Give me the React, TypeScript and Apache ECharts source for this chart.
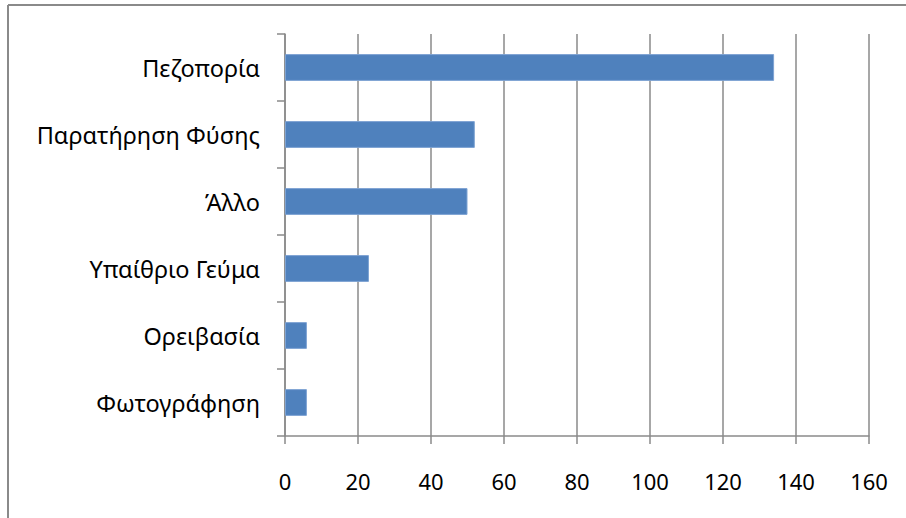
import React, { useEffect, useRef } from "react";
import * as echarts from "echarts";

const categories = ["Πεζοπορία", "Παρατήρηση Φύσης", "Άλλο", "Υπαίθριο Γεύμα", "Ορειβασία", "Φωτογράφηση"];
const values = [134, 52, 50, 23, 6, 6];
const xMin = 0;
const xMax = 160;
const xInterval = 20;

export default function App() {
  const ref = useRef<HTMLDivElement>(null);
  useEffect(() => {
    if (!ref.current) return;
    const chart = echarts.init(ref.current, null, { renderer: "svg" });
    const font = "'Noto Sans', sans-serif";
    chart.setOption({
      animation: false,
      backgroundColor: "#ffffff",
      graphic: [
        { type: "line", shape: { x1: 8, y1: 5, x2: 906, y2: 5 }, style: { stroke: "#8a8a8a", lineWidth: 2 } },
        { type: "line", shape: { x1: 8, y1: 5, x2: 8, y2: 518 }, style: { stroke: "#8a8a8a", lineWidth: 2 } },
      ],
      grid: { left: 285, right: 37, top: 34, bottom: 82, containLabel: false },
      xAxis: {
        type: "value",
        min: xMin,
        max: xMax,
        interval: xInterval,
        axisLine: { show: true, lineStyle: { color: "#8a8a8a", width: 1.5 } },
        axisTick: { show: true, length: 8, lineStyle: { color: "#8a8a8a", width: 1.5 } },
        splitLine: { show: true, lineStyle: { color: "#8a8a8a", width: 1.5 } },
        axisLabel: { color: "#000", fontFamily: font, fontSize: 22, margin: 34 },
      },
      yAxis: {
        type: "category",
        data: categories,
        inverse: true,
        axisLine: { show: true, lineStyle: { color: "#8a8a8a", width: 1.5 } },
        axisTick: { show: true, length: 8, alignWithLabel: false, lineStyle: { color: "#8a8a8a", width: 1.5 } },
        axisLabel: { color: "#000", fontFamily: font, fontSize: 23.5, margin: 25 },
      },
      series: [
        {
          type: "bar",
          data: values,
          barCategoryGap: "60%",
          itemStyle: { color: "#4F81BD", borderColor: "#7ea3d3", borderWidth: 1 },
        },
      ],
    });
    return () => chart.dispose();
  }, []);
  return (
    <div
      ref={ref}
      style={{ position: "absolute", left: 0, top: 0, width: 906, height: 518 }}
    />
  );
}
